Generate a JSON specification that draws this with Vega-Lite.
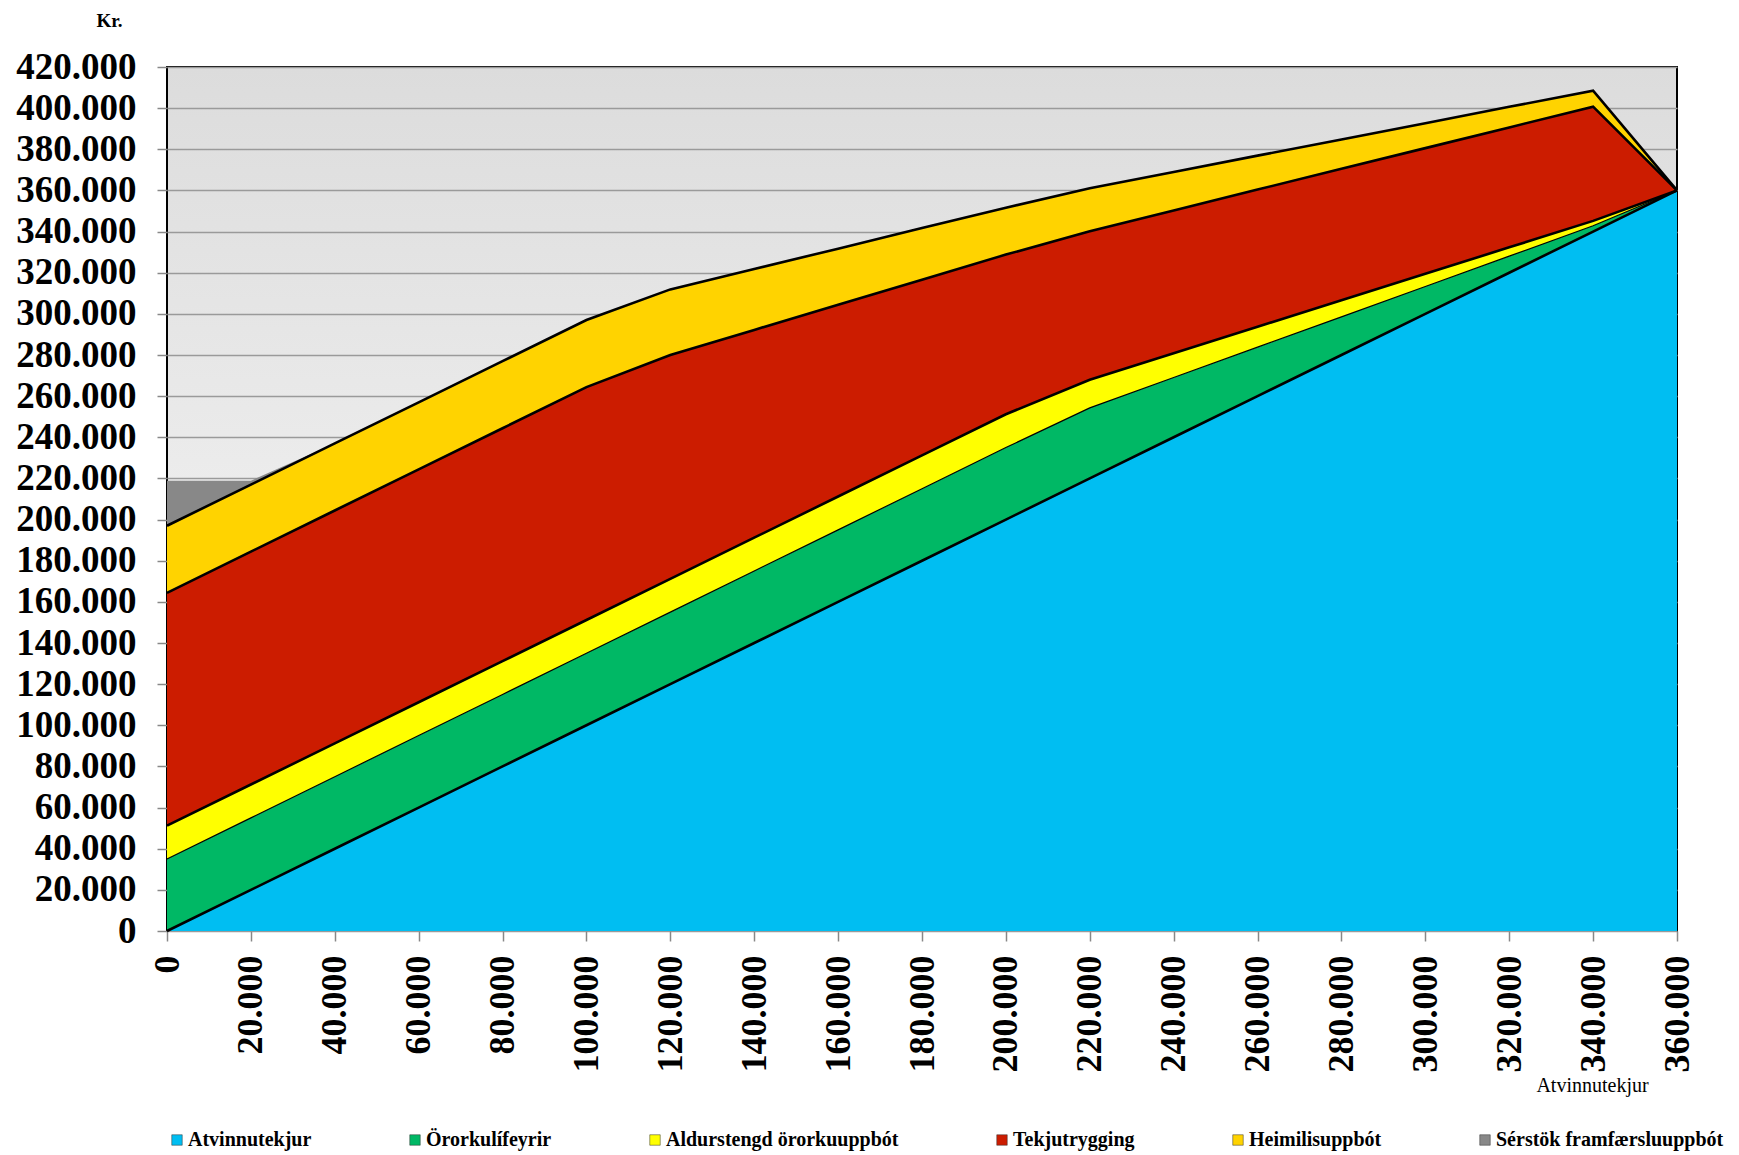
{
  "$schema": "https://vega.github.io/schema/vega-lite/v6.json",
  "width": 1510,
  "height": 864,
  "autosize": {"type": "none"},
  "padding": {"left": 167, "top": 67, "right": 62, "bottom": 224},
  "background": "white",
  "config": {
    "font": "Liberation Serif",
    "view": {
      "stroke": "black",
      "strokeWidth": 2,
      "fill": {"gradient": "linear", "x1": 0, "y1": 0, "x2": 0, "y2": 1, "stops": [{"offset": 0, "color": "#dcdcdc"}, {"offset": 1, "color": "#fdfdfd"}]}
    }
  },
  "data": {
    "values": [
      {"x": 0, "Atvinnutekjur": 0, "Örorkulífeyrir": 35000, "Aldurstengd örorkuuppbót": 16200, "Tekjutrygging": 113200, "Heimilisuppbót": 32600, "Sérstök framfærsluuppbót": 21900},
      {"x": 20000, "Atvinnutekjur": 20000, "Örorkulífeyrir": 35000, "Aldurstengd örorkuuppbót": 16200, "Tekjutrygging": 113200, "Heimilisuppbót": 32600, "Sérstök framfærsluuppbót": 1900},
      {"x": 40000, "Atvinnutekjur": 40000, "Örorkulífeyrir": 35000, "Aldurstengd örorkuuppbót": 16200, "Tekjutrygging": 113200, "Heimilisuppbót": 32600, "Sérstök framfærsluuppbót": 0},
      {"x": 60000, "Atvinnutekjur": 60000, "Örorkulífeyrir": 35000, "Aldurstengd örorkuuppbót": 16200, "Tekjutrygging": 113200, "Heimilisuppbót": 32600},
      {"x": 80000, "Atvinnutekjur": 80000, "Örorkulífeyrir": 35000, "Aldurstengd örorkuuppbót": 16200, "Tekjutrygging": 113200, "Heimilisuppbót": 32600},
      {"x": 100000, "Atvinnutekjur": 100000, "Örorkulífeyrir": 35000, "Aldurstengd örorkuuppbót": 16200, "Tekjutrygging": 113200, "Heimilisuppbót": 32600},
      {"x": 120000, "Atvinnutekjur": 120000, "Örorkulífeyrir": 35000, "Aldurstengd örorkuuppbót": 16200, "Tekjutrygging": 108800, "Heimilisuppbót": 31900},
      {"x": 140000, "Atvinnutekjur": 140000, "Örorkulífeyrir": 35000, "Aldurstengd örorkuuppbót": 16200, "Tekjutrygging": 101000, "Heimilisuppbót": 29600},
      {"x": 160000, "Atvinnutekjur": 160000, "Örorkulífeyrir": 35000, "Aldurstengd örorkuuppbót": 16200, "Tekjutrygging": 93200, "Heimilisuppbót": 27300},
      {"x": 180000, "Atvinnutekjur": 180000, "Örorkulífeyrir": 35000, "Aldurstengd örorkuuppbót": 16200, "Tekjutrygging": 85400, "Heimilisuppbót": 25100},
      {"x": 200000, "Atvinnutekjur": 200000, "Örorkulífeyrir": 35000, "Aldurstengd örorkuuppbót": 16200, "Tekjutrygging": 77600, "Heimilisuppbót": 22800},
      {"x": 220000, "Atvinnutekjur": 220000, "Örorkulífeyrir": 34300, "Aldurstengd örorkuuppbót": 13700, "Tekjutrygging": 72200, "Heimilisuppbót": 20900},
      {"x": 240000, "Atvinnutekjur": 240000, "Örorkulífeyrir": 29050, "Aldurstengd örorkuuppbót": 11820, "Tekjutrygging": 69400, "Heimilisuppbót": 18700},
      {"x": 260000, "Atvinnutekjur": 260000, "Örorkulífeyrir": 23800, "Aldurstengd örorkuuppbót": 9930, "Tekjutrygging": 66700, "Heimilisuppbót": 16500},
      {"x": 280000, "Atvinnutekjur": 280000, "Örorkulífeyrir": 18550, "Aldurstengd örorkuuppbót": 8050, "Tekjutrygging": 63900, "Heimilisuppbót": 14300},
      {"x": 300000, "Atvinnutekjur": 300000, "Örorkulífeyrir": 13300, "Aldurstengd örorkuuppbót": 6170, "Tekjutrygging": 61100, "Heimilisuppbót": 12100},
      {"x": 320000, "Atvinnutekjur": 320000, "Örorkulífeyrir": 8050, "Aldurstengd örorkuuppbót": 4280, "Tekjutrygging": 58300, "Heimilisuppbót": 10000},
      {"x": 340000, "Atvinnutekjur": 340000, "Örorkulífeyrir": 2800, "Aldurstengd örorkuuppbót": 2400, "Tekjutrygging": 55500, "Heimilisuppbót": 7800},
      {"x": 360000, "Atvinnutekjur": 360000, "Örorkulífeyrir": 0, "Aldurstengd örorkuuppbót": 0, "Tekjutrygging": 0, "Heimilisuppbót": 0}
    ]
  },
  "transform": [
    {"fold": ["Atvinnutekjur", "Örorkulífeyrir", "Aldurstengd örorkuuppbót", "Tekjutrygging", "Heimilisuppbót", "Sérstök framfærsluuppbót"], "as": ["s", "v"]},
    {"filter": "datum.v != null"},
    {"lookup": "s", "from": {"data": {"values": [
      {"s": "Atvinnutekjur", "o": 1},
      {"s": "Örorkulífeyrir", "o": 2},
      {"s": "Aldurstengd örorkuuppbót", "o": 3},
      {"s": "Tekjutrygging", "o": 4},
      {"s": "Heimilisuppbót", "o": 5},
      {"s": "Sérstök framfærsluuppbót", "o": 6}
    ]}, "key": "s", "fields": ["o"]}},
    {"stack": "v", "groupby": ["x"], "sort": [{"field": "o", "order": "ascending"}], "as": ["v0", "v1"]}
  ],
  "layer": [
    {
      "mark": {"type": "area", "opacity": 1},
      "encoding": {
        "x": {
          "field": "x", "type": "quantitative",
          "scale": {"domain": [0, 360000], "nice": false, "zero": false},
          "axis": {
            "values": [0, 20000, 40000, 60000, 80000, 100000, 120000, 140000, 160000, 180000, 200000, 220000, 240000, 260000, 280000, 300000, 320000, 340000, 360000],
            "labelExpr": "replace(format(datum.value, ','), ',', '.')",
            "labelAngle": -90,
            "labelFont": "Liberation Serif",
            "labelFontWeight": "bold",
            "labelFontSize": 36,
            "labelColor": "black",
            "labelPadding": 14,
            "labelOverlap": false,
            "labelFlush": false,
            "labelBound": false,
            "tickColor": "#888888",
            "tickSize": 10,
            "tickWidth": 1.5,
            "domain": false,
            "grid": false,
            "title": "Atvinnutekjur",
            "titleFont": "Liberation Serif",
            "titleFontWeight": "normal",
            "titleFontSize": 20,
            "titleColor": "black",
            "titleX": 1425,
            "titleY": 154,
            "titleAlign": "center",
            "titleBaseline": "middle"
          }
        },
        "y": {
          "field": "v1", "type": "quantitative", "stack": null,
          "scale": {"domain": [0, 420000], "nice": false},
          "axis": {
            "values": [0, 20000, 40000, 60000, 80000, 100000, 120000, 140000, 160000, 180000, 200000, 220000, 240000, 260000, 280000, 300000, 320000, 340000, 360000, 380000, 400000, 420000],
            "labelExpr": "replace(format(datum.value, ','), ',', '.')",
            "labelFont": "Liberation Serif",
            "labelFontWeight": "bold",
            "labelFontSize": 37,
            "labelColor": "black",
            "labelPadding": 21,
            "labelOverlap": false,
            "labelFlush": false,
            "tickColor": "#888888",
            "tickSize": 10,
            "tickWidth": 1.5,
            "domain": false,
            "grid": true,
            "gridColor": "#9a9a9a",
            "gridWidth": 1.4,
            "title": "Kr.",
            "titleAngle": 0,
            "titleFont": "Liberation Serif",
            "titleFontWeight": "bold",
            "titleFontSize": 19,
            "titleColor": "black",
            "titleX": -58,
            "titleY": -41,
            "titleAlign": "center",
            "titleBaseline": "alphabetic"
          }
        },
        "y2": {"field": "v0"},
        "color": {
          "field": "s", "type": "nominal",
          "scale": {
            "domain": ["Atvinnutekjur", "Örorkulífeyrir", "Aldurstengd örorkuuppbót", "Tekjutrygging", "Heimilisuppbót", "Sérstök framfærsluuppbót"],
            "range": ["#00BEF2", "#00B865", "#FFFF00", "#CC1C00", "#FFD300", "#888888"]
          },
          "legend": {
            "orient": "none",
            "legendX": 0,
            "legendY": 1063,
            "direction": "horizontal",
            "columns": 6,
            "title": null,
            "symbolType": "square",
            "symbolSize": 110,
            "symbolOpacity": 1,
            "symbolStrokeColor": "#333333",
            "symbolStrokeWidth": 0.5,
            "labelFont": "Liberation Serif",
            "labelFontWeight": "bold",
            "labelFontSize": 20,
            "labelColor": "black",
            "labelLimit": 0,
            "labelOffset": 1,
            "columnPadding": 93
          }
        }
      }
    },
    {
      "transform": [{"filter": "datum.o < 6"}],
      "mark": {"type": "line", "color": "black", "strokeJoin": "miter"},
      "encoding": {
        "x": {"field": "x", "type": "quantitative"},
        "y": {"field": "v1", "type": "quantitative", "stack": null},
        "detail": {"field": "s"},
        "strokeWidth": {"condition": {"test": "datum.o == 2", "value": 1.2}, "value": 2.6}
      }
    }
  ]
}
